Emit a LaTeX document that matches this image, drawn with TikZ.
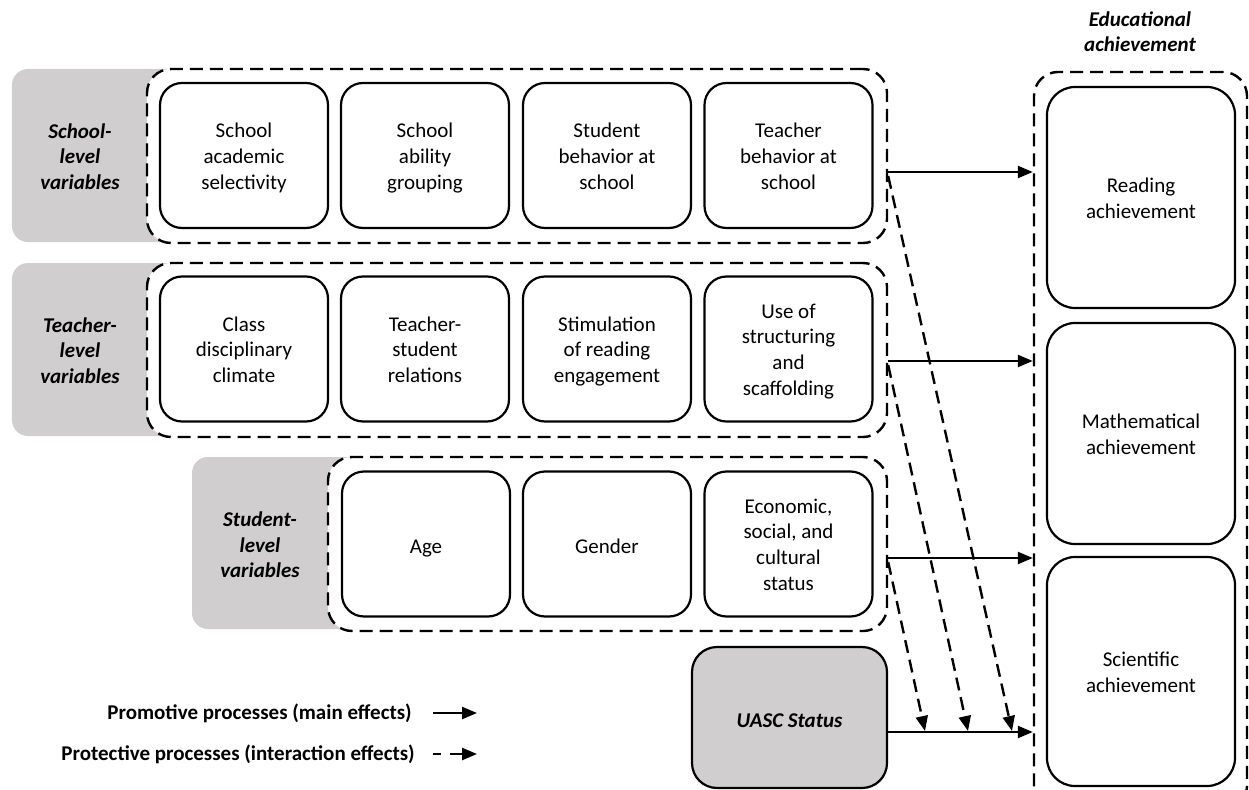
\documentclass[tikz,border=0pt]{standalone}
\usepackage{fontspec}
\setmainfont{Carlito}
\usetikzlibrary{arrows.meta}
\definecolor{panelgray}{RGB}{208,206,206}
\begin{document}
\begin{tikzpicture}[x=1bp,y=-1bp,
  txt/.style={font=\fontsize{21bp}{25.8bp}\selectfont, align=center, inner sep=0pt,
    execute at begin node=\strut, execute at end node=\strut, yshift=-4.5bp},
  bitxt/.style={txt, font=\fontsize{21bp}{25.8bp}\selectfont\bfseries\itshape},
  varbox/.style={draw, fill=white, line width=2.2bp, rounded corners=22bp,
    minimum width=168bp, minimum height=145bp, inner sep=0pt},
  outbox/.style={draw, fill=white, line width=2.2bp, rounded corners=28bp,
    minimum width=188bp, inner sep=0pt},
  grp/.style={draw, fill=white, line width=2.4bp, dash pattern=on 13bp off 7bp,
    rounded corners=24bp, inner sep=0pt},
  panel/.style={fill=panelgray, rounded corners=16bp, inner sep=0pt},
  legtxt/.style={font=\fontsize{21bp}{25.8bp}\selectfont\bfseries, inner sep=0pt, anchor=east},
  main/.style={line width=2.4bp, -{Triangle[length=15bp,width=12bp]}},
  inter/.style={main, dash pattern=on 13bp off 7bp},
]
\useasboundingbox (0,0) rectangle (1249,790);
\clip (0,0) rectangle (1249,790);

% ---- level panels (grey tabs) ----
\node[panel, minimum width=188bp, minimum height=173bp] (schoolpanel) at (106,155.5) {};
\node[panel, minimum width=188bp, minimum height=173bp] (teacherpanel) at (106,349.5) {};
\node[panel, minimum width=188bp, minimum height=172bp] (studentpanel) at (286,543) {};

% ---- dashed groups ----
\node[grp, minimum width=740bp, minimum height=174bp] (schoolgrp) at (517,156) {};
\node[grp, minimum width=740bp, minimum height=174bp] (teachergrp) at (517,350) {};
\node[grp, minimum width=559bp, minimum height=174bp] (studentgrp) at (607.5,544) {};

% ---- level labels ----
\node[bitxt] (schoollbl) at (80,156) {School-\\level\\variables};
\node[bitxt] (teacherlbl) at (80,350) {Teacher-\\level\\variables};
\node[bitxt] (studentlbl) at (260,544) {Student-\\level\\variables};

% ---- variable boxes ----
\node[varbox] (s1) at (244,155.5) {};
\node[varbox] (s2) at (425,155.5) {};
\node[varbox] (s3) at (607,155.5) {};
\node[varbox] (s4) at (788.5,155.5) {};
\node[varbox] (t1) at (244,349) {};
\node[varbox] (t2) at (425,349) {};
\node[varbox] (t3) at (607,349) {};
\node[varbox] (t4) at (788.5,349) {};
\node[varbox] (u1) at (426,544) {};
\node[varbox] (u2) at (607,544) {};
\node[varbox] (u3) at (788.5,544) {};

% school level
\node[txt] (s1t) at (s1) {School\\academic\\selectivity};
\node[txt] (s2t) at (s2) {School\\ability\\grouping};
\node[txt] (s3t) at (s3) {Student\\behavior at\\school};
\node[txt] (s4t) at (s4) {Teacher\\behavior at\\school};
% teacher level
\node[txt] (t1t) at (t1) {Class\\disciplinary\\climate};
\node[txt] (t2t) at (t2) {Teacher-\\student\\relations};
\node[txt] (t3t) at (t3) {Stimulation\\of reading\\engagement};
\node[txt] (t4t) at (t4) {Use of\\structuring\\and\\scaffolding};
% student level
\node[txt] (u1t) at (u1) {Age};
\node[txt] (u2t) at (u2) {Gender};
\node[txt] (u3t) at (u3) {Economic,\\social, and\\cultural\\status};

% ---- moderator ----
\node[draw, fill=panelgray, line width=2.2bp, rounded corners=25bp,
  minimum width=195bp, minimum height=141bp, inner sep=0pt] (uasc) at (789.5,717.5) {};
\node[bitxt] (uasct) at (uasc) {UASC Status};

% ---- outcomes ----
\node[bitxt] (outtitle) at (1140,31) {Educational\\achievement};
\node[grp, minimum width=213bp, minimum height=738bp] (outcomes) at (1140.5,441) {};
\node[outbox, minimum height=221bp] (reading) at (1141,197.5) {};
\node[outbox, minimum height=221bp] (math) at (1141,433.5) {};
\node[outbox, minimum height=229bp] (science) at (1141,671.5) {};
\node[txt] (readingt) at (reading) {Reading\\achievement};
\node[txt] (matht) at (math) {Mathematical\\achievement};
\node[txt] (sciencet) at (science) {Scientific\\achievement};

% ---- arrow levels ----
\coordinate (ySchool) at (0,172);
\coordinate (yTeacher) at (0,361);
\coordinate (yStudent) at (0,558);
\coordinate (yUasc) at (0,732);
\coordinate (ySchoolI) at (0,176);
\coordinate (yTeacherI) at (0,365);
\coordinate (yStudentI) at (0,562);

% main effects
\draw[main] (schoolgrp.east |- ySchool) -- (outcomes.west |- ySchool);
\draw[main] (teachergrp.east |- yTeacher) -- (outcomes.west |- yTeacher);
\draw[main] (studentgrp.east |- yStudent) -- (outcomes.west |- yStudent);
\draw[main] (uasc.east |- yUasc) -- (outcomes.west |- yUasc);

% interaction effects onto the UASC path
\coordinate (hitSchool) at (1012,731);
\coordinate (hitTeacher) at (968,731);
\coordinate (hitStudent) at (925,731);
\draw[inter] (schoolgrp.east |- ySchoolI) -- (hitSchool);
\draw[inter] (teachergrp.east |- yTeacherI) -- (hitTeacher);
\draw[inter] (studentgrp.east |- yStudentI) -- (hitStudent);

% ---- legend ----
\node[legtxt] (leg1) at (412,713) {Promotive processes (main effects)};
\node[legtxt] (leg2) at (415,754) {Protective processes (interaction effects)};
\coordinate (leg1s) at (433,713);
\coordinate (leg1e) at (477,713);
\coordinate (leg2s) at (433,754);
\coordinate (leg2e) at (477,754);
\draw[main] (leg1s) -- (leg1e);
\draw[main, dash pattern=on 8bp off 9bp on 20bp off 4bp] (leg2s) -- (leg2e);
\end{tikzpicture}
\end{document}
